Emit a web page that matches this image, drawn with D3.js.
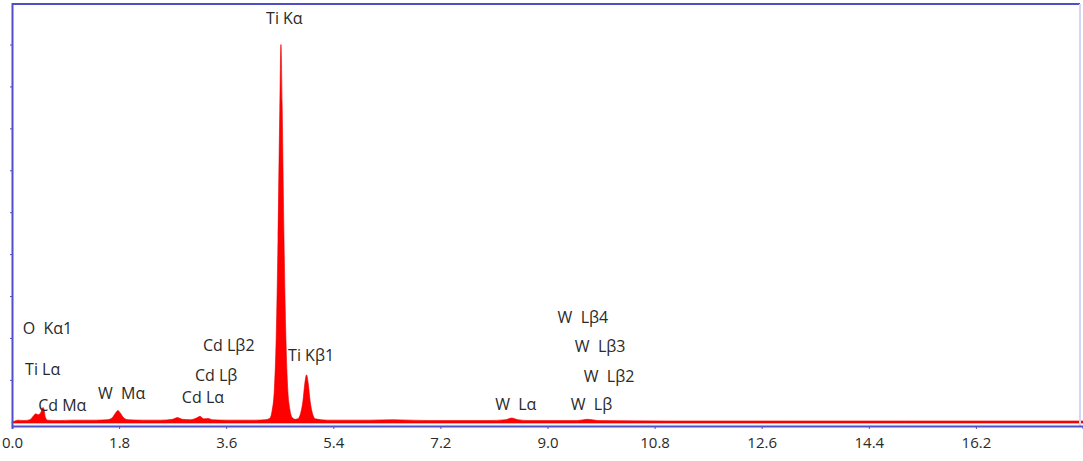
<!DOCTYPE html>
<html>
<head>
<meta charset="utf-8">
<script src="https://cdn.jsdelivr.net/npm/d3@7"></script>
<style>
  html, body { margin: 0; padding: 0; background: #ffffff; }
  svg { display: block; }
  text { font-family: "Open Sans", "Noto Sans", sans-serif; fill: #2a2a2a; white-space: pre; }
</style>
</head>
<body>
<svg id="chart" width="1083" height="461"></svg>
<script>
// EDS spectrum: energy (keV) and intensity (arbitrary units)
const energy = [
  0.00, 0.05, 0.10, 0.20, 0.30, 0.36, 0.40, 0.44, 0.48, 0.52, 0.54, 0.56, 0.60,
  0.80, 1.00, 1.20, 1.40, 1.60, 1.68, 1.74, 1.78, 1.82, 1.88, 1.95,
  2.20, 2.50, 2.70, 2.78, 2.86, 3.00, 3.10, 3.16, 3.22, 3.30, 3.36, 3.60, 3.90, 4.10, 4.25,
  4.33, 4.37, 4.41, 4.44, 4.47, 4.50, 4.52, 4.54, 4.57, 4.60, 4.63, 4.67, 4.71, 4.76,
  4.80, 4.85, 4.89, 4.92, 4.95, 4.98, 5.01, 5.05, 5.10,
  5.30, 6.00, 6.40, 7.00, 8.00, 8.30, 8.40, 8.50, 8.70, 9.50, 9.67, 9.85,
  11.0, 13.0, 15.0, 18.0
];
const intensity = [
  0.00, 0.02, 0.04, 0.03, 0.05, 0.14, 0.19, 0.17, 0.21, 0.34, 0.29, 0.11, 0.04,
  0.03, 0.04, 0.04, 0.04, 0.05, 0.09, 0.21, 0.27, 0.21, 0.09, 0.05,
  0.04, 0.04, 0.06, 0.10, 0.06, 0.05, 0.09, 0.13, 0.07, 0.08, 0.05, 0.04, 0.04, 0.04, 0.05,
  0.08, 0.25, 0.80, 2.00, 4.30, 7.40, 9.00, 7.60, 4.50, 2.20, 0.90, 0.30, 0.10, 0.06,
  0.07, 0.20, 0.50, 0.90, 1.12, 0.90, 0.50, 0.20, 0.07,
  0.04, 0.04, 0.05, 0.03, 0.03, 0.05, 0.09, 0.05, 0.03, 0.03, 0.06, 0.03,
  0.02, 0.02, 0.02, 0.02
];

// Axis ticks
const xTicks = [0.0, 1.8, 3.6, 5.4, 7.2, 9.0, 10.8, 12.6, 14.4, 16.2];
const yTicks = [1, 2, 3, 4, 5, 6, 7, 8, 9];

// Peak identification labels: text, energy of the text's left edge, height
const lineLabels = ["O  K\u03b11", "Ti L\u03b1", "Cd M\u03b1", "W  M\u03b1", "Cd L\u03b22", "Cd L\u03b2", "Cd L\u03b1",
                    "Ti K\u03b1", "Ti K\u03b21", "W  L\u03b24", "W  L\u03b23", "W  L\u03b22", "W  L\u03b1", "W  L\u03b2"];
const labelEnergy = [0.18, 0.22, 0.44, 1.445, 3.21, 3.075, 2.855,
                     4.27, 4.64, 9.17, 9.46, 9.61, 8.12, 9.39];
const labelLevel  = [2.09, 1.12, 0.26, 0.55, 1.69, 0.98, 0.45,
                     9.48, 1.45, 2.36, 1.67, 0.95, 0.28, 0.28];

const svg = d3.select("#chart");
const x = d3.scaleLinear().domain([0, 18]).range([12, 1083]);
const y = d3.scaleLinear().domain([-0.1, 10]).range([426, 2.6]);

const data = energy.map((e, i) => ({ e, v: intensity[i] }));

// Spectrum fill
const area = d3.area()
  .x(d => x(d.e))
  .y0(y(-0.03))
  .y1(d => y(d.v))
  .curve(d3.curveMonotoneX);

svg.append("path")
  .datum(data)
  .attr("d", area)
  .attr("fill", "#ff0000")
  .attr("stroke", "#e60000")
  .attr("stroke-width", 0.6);

// Frame
const frame = "#4f4fc8";
svg.append("line").attr("x1", 12).attr("x2", 1080).attr("y1", 4).attr("y2", 4)
  .attr("stroke", frame).attr("stroke-width", 2);
svg.append("line").attr("x1", 1080).attr("x2", 1080).attr("y1", 4).attr("y2", 426)
  .attr("stroke", "#d6d6f4").attr("stroke-width", 2);

// Bottom axis
const xAxis = svg.append("g").attr("transform", "translate(0,426)")
  .call(d3.axisBottom(x).tickValues(xTicks).tickFormat(d3.format(".1f")).tickSize(3).tickPadding(8));
xAxis.select(".domain").attr("stroke", frame).attr("stroke-width", 2);
xAxis.selectAll(".tick line").attr("stroke", frame);
xAxis.selectAll(".tick text").attr("fill", "#2a2a2a").style("font-size", "15px")
  .style("font-family", "'Open Sans', 'Noto Sans', sans-serif");

// Left axis (no labels)
const yAxis = svg.append("g").attr("transform", "translate(12,0)")
  .call(d3.axisLeft(y).tickValues(yTicks).tickFormat("").tickSize(2).tickSizeOuter(0));
yAxis.select(".domain").attr("stroke", frame).attr("stroke-width", 2);
yAxis.selectAll(".tick line").attr("stroke", frame);

// Peak labels
svg.append("g").selectAll("text")
  .data(lineLabels)
  .join("text")
  .attr("x", (d, i) => x(labelEnergy[i]))
  .attr("y", (d, i) => y(labelLevel[i]))
  .style("font-size", "16px")
  .text(d => d);
</script>
</body>
</html>
